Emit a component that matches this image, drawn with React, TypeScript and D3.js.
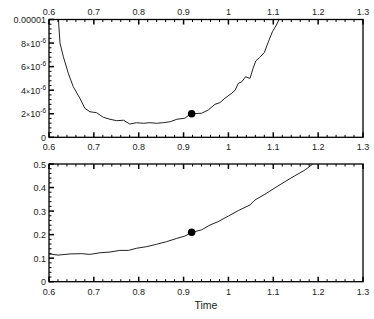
import React from "react";
import * as d3 from "d3";

const topT = [0.621, 0.6245, 0.632, 0.643, 0.654, 0.669, 0.68, 0.691, 0.706, 0.721, 0.736, 0.751, 0.766, 0.78, 0.795, 0.81, 0.825, 0.84, 0.855, 0.87, 0.885, 0.903, 0.914, 0.918, 0.94, 0.955, 0.97, 0.981, 0.992, 1.007, 1.015, 1.022, 1.03, 1.038, 1.048, 1.055, 1.061, 1.07, 1.08, 1.089, 1.098, 1.107, 1.113];
const topV = [1.0e-5, 8.0e-6, 6.84e-6, 5.43e-6, 4.3e-6, 3.3e-6, 2.46e-6, 2.17e-6, 2.09e-6, 1.7e-6, 1.53e-6, 1.41e-6, 1.45e-6, 1.13e-6, 1.24e-6, 1.19e-6, 1.24e-6, 1.19e-6, 1.24e-6, 1.32e-6, 1.53e-6, 1.62e-6, 1.95e-6, 2.0e-6, 2.04e-6, 2.32e-6, 2.8e-6, 2.94e-6, 3.31e-6, 3.73e-6, 4.0e-6, 4.58e-6, 4.72e-6, 5.14e-6, 5.0e-6, 5.86e-6, 6.48e-6, 6.79e-6, 7.2e-6, 8.1e-6, 8.96e-6, 9.53e-6, 1.0e-5];

const botT = [0.6, 0.62, 0.647, 0.673, 0.691, 0.714, 0.736, 0.758, 0.777, 0.795, 0.818, 0.84, 0.862, 0.885, 0.903, 0.914, 0.919, 0.94, 0.959, 0.977, 1.0, 1.022, 1.048, 1.059, 1.081, 1.104, 1.126, 1.148, 1.171, 1.188];
const botV = [0.118, 0.113, 0.118, 0.119, 0.116, 0.123, 0.126, 0.133, 0.133, 0.142, 0.149, 0.159, 0.17, 0.184, 0.194, 0.205, 0.21, 0.22, 0.241, 0.255, 0.279, 0.302, 0.326, 0.347, 0.371, 0.399, 0.425, 0.45, 0.475, 0.5];

const markerT = 0.918;
const markerTop = 2.0e-6;
const markerBot = 0.21;

const xTicks = [0.6, 0.7, 0.8, 0.9, 1.0, 1.1, 1.2, 1.3];
const xTickLabels = ["0.6", "0.7", "0.8", "0.9", "1", "1.1", "1.2", "1.3"];
const topYTicks = [0, 2e-6, 4e-6, 6e-6, 8e-6, 1e-5];
const topYMant = ["0", "2", "4", "6", "8", "0.00001"];
const botYTicks = [0, 0.1, 0.2, 0.3, 0.4, 0.5];
const botYLabels = ["0", "0.1", "0.2", "0.3", "0.4", "0.5"];

const FONT = "Liberation Sans, Arial, sans-serif";
const L = 49, R = 363;

function Panel({ top, bottom, yMax, yTicks, yLabel, tv, vv, mv, sup, showTopLabels, minorY }: any) {
  const x = d3.scaleLinear().domain([0.6, 1.3]).range([L, R]);
  const y = d3.scaleLinear().domain([0, yMax]).range([bottom, top]);
  const line = d3.line<number>().x((_, i) => x(tv[i])).y((d) => y(d));
  const id = "clip" + top;
  const xMinor = d3.range(0, 36).map((i) => 0.6 + i * 0.02).filter((v) => Math.abs(v * 10 - Math.round(v * 10)) > 1e-6);
  const yMinor = d3.range(0, 26).map((i) => i * minorY).filter((_, i) => i % 5 !== 0);
  return (
    <g>
      <defs>
        <clipPath id={id}>
          <rect x={L} y={top} width={R - L} height={bottom - top} />
        </clipPath>
      </defs>
      <path d={line(vv) || ""} fill="none" stroke="#222" strokeWidth={1} clipPath={`url(#${id})`} />
      <circle cx={x(markerT)} cy={y(mv)} r={3.8} fill="#000" />
      {/* frame */}
      <rect x={L} y={top} width={R - L} height={bottom - top} fill="none" stroke="#000" strokeWidth={1.3} />
      {xTicks.map((t, i) => (
        <g key={"xt" + i}>
          <line x1={x(t)} x2={x(t)} y1={bottom} y2={bottom - 5} stroke="#000" strokeWidth={1.5} />
          <line x1={x(t)} x2={x(t)} y1={top} y2={top + 5} stroke="#000" strokeWidth={1.5} />
          <text x={x(t)} y={bottom + 13} textAnchor="middle" fontSize={9} fontFamily={FONT} fill="#222">{xTickLabels[i]}</text>
          {showTopLabels && (
            <text x={x(t)} y={top - 5} textAnchor="middle" fontSize={9} fontFamily={FONT} fill="#222">{xTickLabels[i]}</text>
          )}
        </g>
      ))}
      {xMinor.map((t, i) => (
        <g key={"xm" + i}>
          <line x1={x(t)} x2={x(t)} y1={bottom} y2={bottom - 2.5} stroke="#000" strokeWidth={1} />
          <line x1={x(t)} x2={x(t)} y1={top} y2={top + 2.5} stroke="#000" strokeWidth={1} />
        </g>
      ))}
      {yTicks.map((t: number, i: number) => (
        <g key={"yt" + i}>
          <line x1={L} x2={L + 5} y1={y(t)} y2={y(t)} stroke="#000" strokeWidth={1.5} />
          {sup && i > 0 && i < yTicks.length - 1 ? (
            <text x={L - 3} y={y(t) + 3.5} textAnchor="end" fontSize={9} fontFamily={FONT} fill="#222">
              {yLabel[i]}
              <tspan fontSize={7}>×</tspan>
              10
              <tspan fontSize={6.5} dy={-4}>-6</tspan>
            </text>
          ) : (
            <text x={L - 3} y={y(t) + 3.5} textAnchor="end" fontSize={9} fontFamily={FONT} fill="#222">{yLabel[i]}</text>
          )}
        </g>
      ))}
      {yMinor.map((t: number, i: number) => (
        <line key={"ym" + i} x1={L} x2={L + 2.5} y1={y(t)} y2={y(t)} stroke="#000" strokeWidth={1} />
      ))}
    </g>
  );
}

export default function App() {
  return (
    <svg width={374} height={319} style={{ position: "absolute", left: 0, top: 0, background: "#fff" }}>
      <rect width={374} height={319} fill="#fff" />
      <Panel top={19.5} bottom={137.3} yMax={1e-5} yTicks={topYTicks} yLabel={topYMant} tv={topT} vv={topV} mv={markerTop} sup={true} showTopLabels={true} minorY={4e-7} />
      <Panel top={164} bottom={281.7} yMax={0.5} yTicks={botYTicks} yLabel={botYLabels} tv={botT} vv={botV} mv={markerBot} sup={false} showTopLabels={false} minorY={0.02} />
      <text x={206} y={309} textAnchor="middle" fontSize={10.5} fontFamily={FONT} fill="#222">Time</text>
    </svg>
  );
}
